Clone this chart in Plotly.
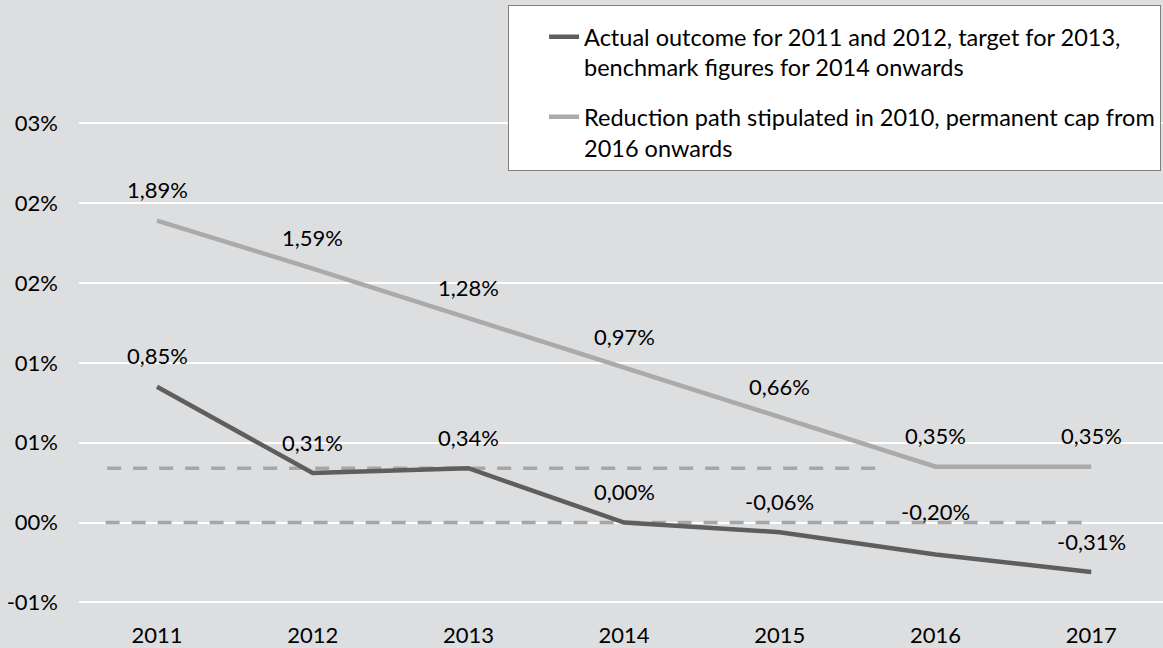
import plotly.graph_objects as go

# Structural balance path, % of GDP
years = [2011, 2012, 2013, 2014, 2015, 2016, 2017]
actual = [0.85, 0.31, 0.34, 0.00, -0.06, -0.20, -0.31]
reduction_path = [1.89, 1.59, 1.28, 0.97, 0.66, 0.35, 0.35]

actual_name = ("Actual outcome for 2011 and 2012, target for 2013,<br>"
               "benchmark figures for 2014 onwards")
path_name = ("Reduction path stipulated in 2010, permanent cap from<br>"
             "2016 onwards")

# Dashed horizontal reference levels and their horizontal extent (in years)
ref_levels = [0.34, 0.0]
ref_start = [2010.68, 2010.67]
ref_end = [2015.67, 2017.0]

y_tick_vals = [-0.5, 0.0, 0.5, 1.0, 1.5, 2.0, 2.5]
y_tick_text = ["-01%", "00%", "01%", "01%", "02%", "02%", "03%"]

BG = "#dddee0"
DARK = "#5e5e5e"
LIGHT = "#aaaaaa"
DASHED = "#a6a6a6"
FONT = "Lato"
FS = 22
LEGEND_FS = 23.5


def pct(v):
    return f"{v:.2f}%".replace(".", ",")


fig = go.Figure()

for lvl, x0, x1 in zip(ref_levels, ref_start, ref_end):
    fig.add_trace(go.Scatter(
        x=[x0, x1], y=[lvl, lvl], mode="lines", showlegend=False,
        hoverinfo="skip",
        line=dict(color=DASHED, width=3.5, dash="14px,12px"),
    ))

fig.add_trace(go.Scatter(
    x=years, y=actual, mode="lines", name=actual_name,
    legendgroup="a", line=dict(color=DARK, width=4.5),
))
fig.add_trace(go.Scatter(
    x=years, y=reduction_path, mode="lines", name=path_name,
    legendgroup="b", line=dict(color=LIGHT, width=4.5),
))

# Value labels above each point
label_lift = {("actual", 2016): 12}
annotations = []
for key, series in (("actual", actual), ("path", reduction_path)):
    for yr, v in zip(years, series):
        annotations.append(dict(
            x=yr, y=v, text=pct(v), showarrow=False,
            xanchor="center", yanchor="middle",
            yshift=31 + label_lift.get((key, yr), 0),
            font=dict(family=FONT, size=FS, color="#000000"),
        ))

fig.update_layout(
    width=1163, height=648,
    margin=dict(l=79, r=0, t=0, b=42, pad=0),
    paper_bgcolor=BG, plot_bgcolor=BG,
    font=dict(family=FONT, size=FS, color="#000000"),
    annotations=annotations,
    showlegend=True,
    legend=dict(
        x=0.3958, y=0.992, xanchor="left", yanchor="top",
        bgcolor="#ffffff", bordercolor="#7f7f7f", borderwidth=1,
        font=dict(family=FONT, size=LEGEND_FS, color="#000000"),
        title=dict(text="&nbsp;", font=dict(size=7)),
        valign="top", tracegroupgap=16, indentation=35,
        traceorder="grouped",
    ),
    xaxis=dict(
        range=[2010.499, 2017.461],
        tickvals=years, ticktext=[str(y) for y in years],
        showgrid=False, zeroline=False, showline=False,
        ticklabelstandoff=16,
    ),
    yaxis=dict(
        range=[-0.5097, 3.271],
        tickvals=y_tick_vals, ticktext=y_tick_text,
        showgrid=True, gridcolor="#ffffff", gridwidth=1.5,
        zeroline=False, showline=False,
        ticklabelstandoff=20,
    ),
)

fig.write_html("out.html")
